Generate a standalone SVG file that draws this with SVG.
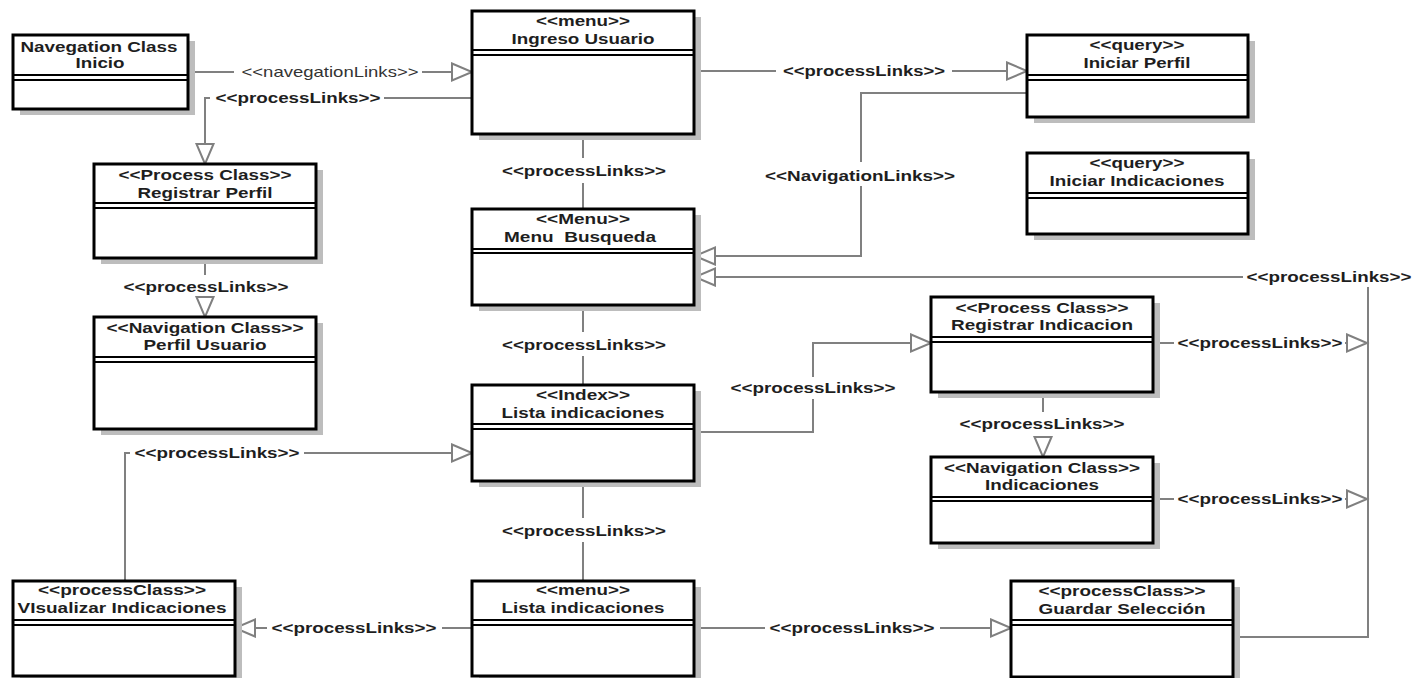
<svg xmlns="http://www.w3.org/2000/svg" width="1413" height="678" viewBox="0 0 1413 678">
<style>
.bg{fill:#ffffff}
.sh{fill:#bdbdbd}
.box{fill:#ffffff;stroke:#000000;stroke-width:3}
.sep{stroke:#000000;stroke-width:2}
.t{font-family:"Liberation Sans",Arial,sans-serif;font-size:15px;font-weight:bold;text-anchor:middle;fill:#1e1e1e}
.lbl{font-family:"Liberation Sans",Arial,sans-serif;font-size:15px;font-weight:bold;text-anchor:middle;fill:#1e1e1e}
.lbln{font-family:"Liberation Sans",Arial,sans-serif;font-size:15px;font-weight:normal;text-anchor:middle;fill:#333333}
.c{fill:none;stroke:#808080;stroke-width:2}
.ca{fill:none;stroke:#808080;stroke-width:2;marker-end:url(#tri)}
</style>
<defs>
<marker id="tri" markerUnits="userSpaceOnUse" markerWidth="24" markerHeight="22" refX="21" refY="10" orient="auto" viewBox="0 0 24 22">
<path d="M1,1.5 L21,10 L1,18.5 Z" fill="#ffffff" stroke="#808080" stroke-width="2"/>
</marker>
</defs>
<rect class="bg" x="0" y="0" width="1413" height="678"/>

<g id="connectors">
<!-- Inicio -> Ingreso -->
<path class="c" d="M188,72 H234"/>
<text class="lbln" x="330" y="77" textLength="177" lengthAdjust="spacingAndGlyphs">&lt;&lt;navegationLinks&gt;&gt;</text>
<path class="ca" d="M422,72 H472"/>
<!-- Ingreso -> Registrar Perfil -->
<path class="c" d="M472,98 H384"/>
<text class="lbl" x="298" y="103" textLength="165" lengthAdjust="spacingAndGlyphs">&lt;&lt;processLinks&gt;&gt;</text>
<path class="ca" d="M210,98 H205 V164"/>
<!-- Ingreso -> Iniciar Perfil -->
<path class="c" d="M694,71 H776"/>
<text class="lbl" x="864" y="76" textLength="162" lengthAdjust="spacingAndGlyphs">&lt;&lt;processLinks&gt;&gt;</text>
<path class="ca" d="M952,71 H1027"/>
<!-- Iniciar Perfil -> Menu Busqueda -->
<path class="c" d="M1027,93 H861 V162"/>
<text class="lbl" x="860" y="181" textLength="190" lengthAdjust="spacingAndGlyphs">&lt;&lt;NavigationLinks&gt;&gt;</text>
<path class="ca" d="M861,186 V256 H695"/>
<!-- Ingreso -> Menu Busqueda -->
<path class="c" d="M583,134 V158"/>
<text class="lbl" x="584" y="176" textLength="164" lengthAdjust="spacingAndGlyphs">&lt;&lt;processLinks&gt;&gt;</text>
<path class="c" d="M583,183 V209"/>
<!-- Menu Busqueda -> Lista (Index) -->
<path class="c" d="M583,305 V332"/>
<text class="lbl" x="584" y="350" textLength="164" lengthAdjust="spacingAndGlyphs">&lt;&lt;processLinks&gt;&gt;</text>
<path class="c" d="M583,356 V385"/>
<!-- Lista (Index) -> Lista (menu) -->
<path class="c" d="M583,481 V518"/>
<text class="lbl" x="584" y="536" textLength="164" lengthAdjust="spacingAndGlyphs">&lt;&lt;processLinks&gt;&gt;</text>
<path class="c" d="M583,542 V581"/>
<!-- Registrar Perfil -> Perfil Usuario -->
<path class="c" d="M205,258 V275"/>
<text class="lbl" x="206" y="292" textLength="165" lengthAdjust="spacingAndGlyphs">&lt;&lt;processLinks&gt;&gt;</text>
<path class="ca" d="M205,297 V317"/>
<!-- Guardar Seleccion -> Menu Busqueda -->
<path class="c" d="M1233,637 H1368 V287"/>
<text class="lbl" x="1329" y="282" textLength="165" lengthAdjust="spacingAndGlyphs">&lt;&lt;processLinks&gt;&gt;</text>
<path class="ca" d="M1243,277 H695"/>
<!-- Registrar Indicacion -> bus -->
<path class="c" d="M1153,343 H1174"/>
<text class="lbl" x="1260" y="348" textLength="165" lengthAdjust="spacingAndGlyphs">&lt;&lt;processLinks&gt;&gt;</text>
<path class="ca" d="M1345,343 H1367"/>
<!-- Indicaciones -> bus -->
<path class="c" d="M1153,499 H1174"/>
<text class="lbl" x="1260" y="504" textLength="165" lengthAdjust="spacingAndGlyphs">&lt;&lt;processLinks&gt;&gt;</text>
<path class="ca" d="M1345,499 H1367"/>
<!-- Lista (Index) -> Registrar Indicacion -->
<path class="c" d="M694,432 H813 V399"/>
<text class="lbl" x="813" y="393" textLength="165" lengthAdjust="spacingAndGlyphs">&lt;&lt;processLinks&gt;&gt;</text>
<path class="ca" d="M813,377 V343 H931"/>
<!-- Registrar Indicacion -> Indicaciones -->
<path class="c" d="M1043,392 V412"/>
<text class="lbl" x="1042" y="429" textLength="165" lengthAdjust="spacingAndGlyphs">&lt;&lt;processLinks&gt;&gt;</text>
<path class="ca" d="M1043,436 V457"/>
<!-- Visualizar -> Lista (Index) -->
<path class="c" d="M125,581 V453 H130"/>
<text class="lbl" x="217" y="458" textLength="165" lengthAdjust="spacingAndGlyphs">&lt;&lt;processLinks&gt;&gt;</text>
<path class="ca" d="M304,453 H472"/>
<!-- Lista (menu) -> Visualizar -->
<path class="c" d="M472,628 H442"/>
<text class="lbl" x="354" y="633" textLength="165" lengthAdjust="spacingAndGlyphs">&lt;&lt;processLinks&gt;&gt;</text>
<path class="ca" d="M267,628 H235"/>
<!-- Lista (menu) -> Guardar -->
<path class="c" d="M694,628 H765"/>
<text class="lbl" x="852" y="633" textLength="165" lengthAdjust="spacingAndGlyphs">&lt;&lt;processLinks&gt;&gt;</text>
<path class="ca" d="M940,628 H1011"/>
</g>

<g id="inicio">
<rect class="sh" x="20" y="41" width="175" height="74"/>
<rect class="box" x="13" y="35" width="175" height="74"/>
<line class="sep" x1="13" y1="75" x2="188" y2="75"/><line class="sep" x1="13" y1="80" x2="188" y2="80"/>
<text class="t" x="99" y="52" textLength="157" lengthAdjust="spacingAndGlyphs">Navegation Class</text>
<text class="t" x="100" y="68" textLength="49" lengthAdjust="spacingAndGlyphs">Inicio</text>
</g>

<g id="ingreso-usuario">
<rect class="sh" x="479" y="17" width="222" height="123"/>
<rect class="box" x="472" y="11" width="222" height="123"/>
<line class="sep" x1="472" y1="50" x2="694" y2="50"/><line class="sep" x1="472" y1="55" x2="694" y2="55"/>
<text class="t" x="583" y="26" textLength="94" lengthAdjust="spacingAndGlyphs">&lt;&lt;menu&gt;&gt;</text>
<text class="t" x="583" y="44" textLength="143" lengthAdjust="spacingAndGlyphs">Ingreso Usuario</text>
</g>

<g id="iniciar-perfil">
<rect class="sh" x="1034" y="41" width="221" height="82"/>
<rect class="box" x="1027" y="35" width="221" height="82"/>
<line class="sep" x1="1027" y1="75" x2="1248" y2="75"/><line class="sep" x1="1027" y1="80" x2="1248" y2="80"/>
<text class="t" x="1137" y="50" textLength="95" lengthAdjust="spacingAndGlyphs">&lt;&lt;query&gt;&gt;</text>
<text class="t" x="1137" y="68" textLength="107" lengthAdjust="spacingAndGlyphs">Iniciar Perfil</text>
</g>

<g id="iniciar-indicaciones">
<rect class="sh" x="1034" y="159" width="221" height="81"/>
<rect class="box" x="1027" y="153" width="221" height="81"/>
<line class="sep" x1="1027" y1="193" x2="1248" y2="193"/><line class="sep" x1="1027" y1="198" x2="1248" y2="198"/>
<text class="t" x="1137" y="168" textLength="95" lengthAdjust="spacingAndGlyphs">&lt;&lt;query&gt;&gt;</text>
<text class="t" x="1137" y="186" textLength="175" lengthAdjust="spacingAndGlyphs">Iniciar Indicaciones</text>
</g>

<g id="registrar-perfil">
<rect class="sh" x="101" y="170" width="222" height="94"/>
<rect class="box" x="94" y="164" width="222" height="94"/>
<line class="sep" x1="94" y1="203" x2="316" y2="203"/><line class="sep" x1="94" y1="208" x2="316" y2="208"/>
<text class="t" x="205" y="180" textLength="173" lengthAdjust="spacingAndGlyphs">&lt;&lt;Process Class&gt;&gt;</text>
<text class="t" x="205" y="198" textLength="135" lengthAdjust="spacingAndGlyphs">Registrar Perfil</text>
</g>

<g id="perfil-usuario">
<rect class="sh" x="101" y="323" width="222" height="112"/>
<rect class="box" x="94" y="317" width="222" height="112"/>
<line class="sep" x1="94" y1="357" x2="316" y2="357"/><line class="sep" x1="94" y1="362" x2="316" y2="362"/>
<text class="t" x="205" y="333" textLength="197" lengthAdjust="spacingAndGlyphs">&lt;&lt;Navigation Class&gt;&gt;</text>
<text class="t" x="205" y="350" textLength="123" lengthAdjust="spacingAndGlyphs">Perfil Usuario</text>
</g>

<g id="menu-busqueda">
<rect class="sh" x="479" y="215" width="222" height="96"/>
<rect class="box" x="472" y="209" width="222" height="96"/>
<line class="sep" x1="472" y1="249" x2="694" y2="249"/><line class="sep" x1="472" y1="253" x2="694" y2="253"/>
<text class="t" x="583" y="224" textLength="94" lengthAdjust="spacingAndGlyphs">&lt;&lt;Menu&gt;&gt;</text>
<text class="t" x="580" y="242" textLength="152" lengthAdjust="spacingAndGlyphs" xml:space="preserve">Menu  Busqueda</text>
</g>

<g id="lista-indicaciones-index">
<rect class="sh" x="479" y="391" width="222" height="96"/>
<rect class="box" x="472" y="385" width="222" height="96"/>
<line class="sep" x1="472" y1="424" x2="694" y2="424"/><line class="sep" x1="472" y1="429" x2="694" y2="429"/>
<text class="t" x="583" y="400" textLength="94" lengthAdjust="spacingAndGlyphs">&lt;&lt;Index&gt;&gt;</text>
<text class="t" x="583" y="418" textLength="163" lengthAdjust="spacingAndGlyphs">Lista indicaciones</text>
</g>

<g id="lista-indicaciones-menu">
<rect class="sh" x="479" y="587" width="222" height="95"/>
<rect class="box" x="472" y="581" width="222" height="95"/>
<line class="sep" x1="472" y1="620" x2="694" y2="620"/><line class="sep" x1="472" y1="625" x2="694" y2="625"/>
<text class="t" x="583" y="595" textLength="94" lengthAdjust="spacingAndGlyphs">&lt;&lt;menu&gt;&gt;</text>
<text class="t" x="583" y="613" textLength="163" lengthAdjust="spacingAndGlyphs">Lista indicaciones</text>
</g>

<g id="visualizar-indicaciones">
<rect class="sh" x="20" y="587" width="222" height="95"/>
<rect class="box" x="13" y="581" width="222" height="95"/>
<line class="sep" x1="13" y1="620" x2="235" y2="620"/><line class="sep" x1="13" y1="625" x2="235" y2="625"/>
<text class="t" x="122" y="595" textLength="168" lengthAdjust="spacingAndGlyphs">&lt;&lt;processClass&gt;&gt;</text>
<text class="t" x="122" y="613" textLength="209" lengthAdjust="spacingAndGlyphs">VIsualizar Indicaciones</text>
</g>

<g id="guardar-seleccion">
<rect class="sh" x="1018" y="587" width="222" height="96"/>
<rect class="box" x="1011" y="581" width="222" height="96"/>
<line class="sep" x1="1011" y1="620" x2="1233" y2="620"/><line class="sep" x1="1011" y1="625" x2="1233" y2="625"/>
<text class="t" x="1122" y="596" textLength="167" lengthAdjust="spacingAndGlyphs">&lt;&lt;processClass&gt;&gt;</text>
<text class="t" x="1122" y="614" textLength="167" lengthAdjust="spacingAndGlyphs">Guardar Selección</text>
</g>

<g id="registrar-indicacion">
<rect class="sh" x="938" y="303" width="222" height="95"/>
<rect class="box" x="931" y="297" width="222" height="95"/>
<line class="sep" x1="931" y1="337" x2="1153" y2="337"/><line class="sep" x1="931" y1="342" x2="1153" y2="342"/>
<text class="t" x="1042" y="313" textLength="173" lengthAdjust="spacingAndGlyphs">&lt;&lt;Process Class&gt;&gt;</text>
<text class="t" x="1042" y="330" textLength="182" lengthAdjust="spacingAndGlyphs">Registrar Indicacion</text>
</g>

<g id="indicaciones">
<rect class="sh" x="938" y="463" width="222" height="86"/>
<rect class="box" x="931" y="457" width="222" height="86"/>
<line class="sep" x1="931" y1="497" x2="1153" y2="497"/><line class="sep" x1="931" y1="501" x2="1153" y2="501"/>
<text class="t" x="1042" y="473" textLength="196" lengthAdjust="spacingAndGlyphs">&lt;&lt;Navigation Class&gt;&gt;</text>
<text class="t" x="1042" y="490" textLength="114" lengthAdjust="spacingAndGlyphs">Indicaciones</text>
</g>
</svg>
